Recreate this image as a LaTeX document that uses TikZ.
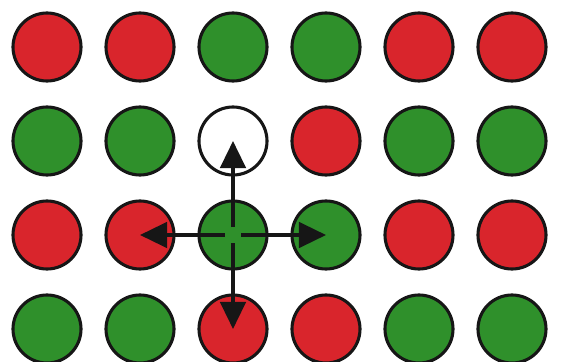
\documentclass[tikz,border=0pt]{standalone}
\usetikzlibrary{arrows.meta}
\definecolor{gdInk}{HTML}{161616}
\definecolor{gdRed}{HTML}{D9252C}
\definecolor{gdGreen}{HTML}{2F902B}
\tikzset{
  disc/.style  ={circle,draw=gdInk,line width=2.2pt,minimum size=1.7cm,inner sep=0pt},
  discr/.style ={disc,fill=gdRed},
  discg/.style ={disc,fill=gdGreen},
  discw/.style ={disc,fill=white},
  hop/.style   ={-{Triangle[length=0.68cm,width=0.64cm]},gdInk,line width=2.3pt,
                 shorten <=0.2cm},
}
\begin{document}
\begin{tikzpicture}[x=0.025cm,y=-0.025cm]
\useasboundingbox (0,0) rectangle (561,362);
% lattice of sites
\foreach \row/\list in {1/{r,r,g,g,r,r},2/{g,g,w,r,g,g},3/{r,r,g,g,r,r},4/{g,g,r,r,g,g}}
  \foreach \c [count=\col] in \list
    \node[disc\c] (d-\row-\col) at ({47+93*(\col-1)},{47+94*(\row-1)}) {};
% hops from the centre site
\draw[hop] (d-3-3.center) -- (d-2-3.center);
\draw[hop] (d-3-3.center) -- (d-3-2.center);
\draw[hop] (d-3-3.center) -- (d-3-4.center);
\draw[hop] (d-3-3.center) -- (d-4-3.center);
\end{tikzpicture}
\end{document}
